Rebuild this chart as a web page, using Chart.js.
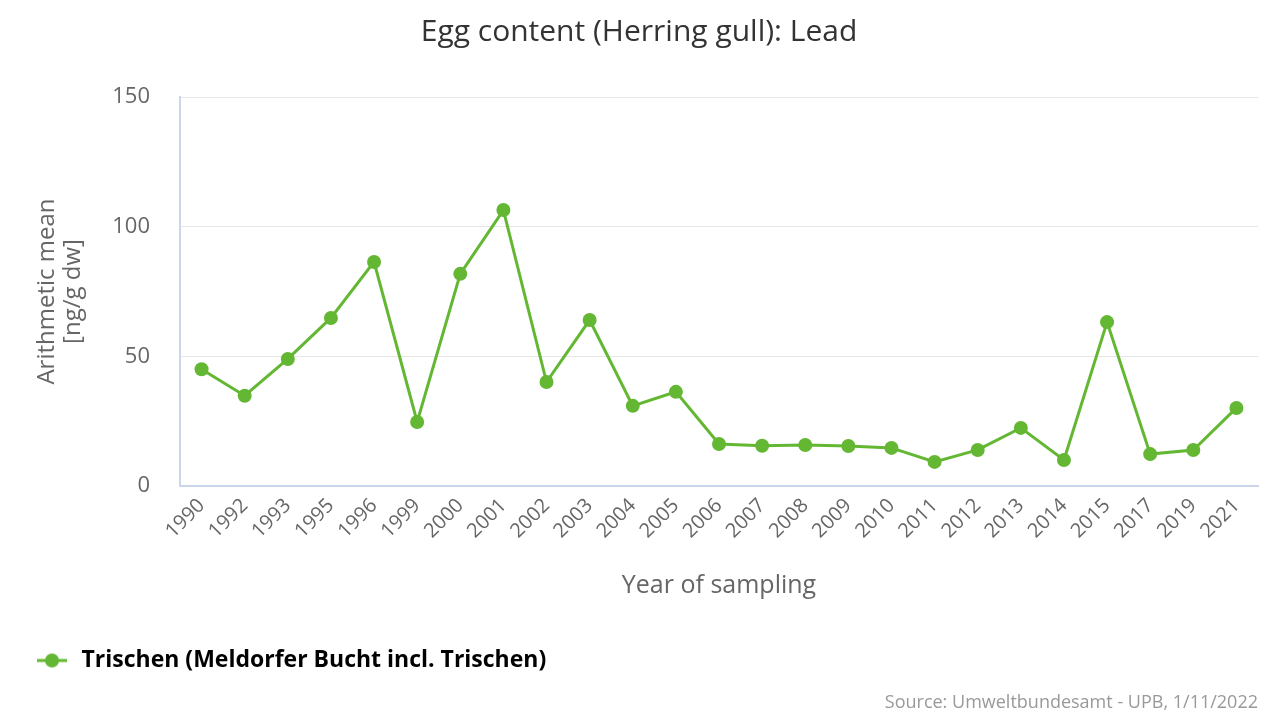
<!DOCTYPE html>
<html>
<head>
<meta charset="utf-8">
<script src="https://cdn.jsdelivr.net/npm/chart.js@4.4.1/dist/chart.umd.min.js"></script>
<style>
  html, body { margin: 0; padding: 0; background: #fff; }
  #wrap { width: 1280px; height: 720px; }
</style>
</head>
<body>
<div id="wrap"><canvas id="myChart" width="1280" height="720"></canvas></div>
<script>
var years = ["1990", "1992", "1993", "1995", "1996", "1999", "2000", "2001", "2002", "2003",
  "2004", "2005", "2006", "2007", "2008", "2009", "2010", "2011", "2012", "2013",
  "2014", "2015", "2017", "2019", "2021"];
var leadValues = [45, 34.8, 49, 64.8, 86.4, 24.7, 81.8, 106.4, 40.1, 64,
  30.9, 36.3, 16.2, 15.5, 15.8, 15.4, 14.7, 9.3, 13.9, 22.4,
  10, 63.2, 12.3, 13.9, 30.1];
var yTicks = [0, 50, 100, 150];

var seriesName = "Trischen (Meldorfer Bucht incl. Trischen)";
var sourceText = "Source: Umweltbundesamt - UPB, 1/11/2022";
var green = "#63b733";
var font = '"Open Sans", "Noto Sans", sans-serif';

// legend marker: line with a dot (blank space on the left to shift it right)
var marker = document.createElement("canvas");
marker.width = 40;
marker.height = 16;
var m = marker.getContext("2d");
m.strokeStyle = green;
m.lineWidth = 3;
m.beginPath();
m.moveTo(7, 8);
m.lineTo(37, 8);
m.stroke();
m.fillStyle = green;
m.beginPath();
m.arc(22, 8, 7, 0, Math.PI * 2);
m.fill();

var sourcePlugin = {
  id: "source",
  afterDraw: function (chart) {
    var c = chart.ctx;
    c.save();
    c.font = "18px " + font;
    c.fillStyle = "#999999";
    c.textAlign = "right";
    c.textBaseline = "middle";
    c.fillText(sourceText, 1258, 703);
    c.restore();
  }
};

var ctx = document.getElementById("myChart");
var myChart = new Chart(ctx, {
  type: "line",
  data: {
    labels: years,
    datasets: [{
      label: seriesName,
      data: leadValues,
      borderColor: green,
      backgroundColor: green,
      borderWidth: 3,
      pointRadius: 7,
      pointHoverRadius: 7,
      pointBorderWidth: 0,
      tension: 0
    }]
  },
  options: {
    responsive: false,
    animation: false,
    layout: { padding: { left: 20, right: 22, top: 0, bottom: 38 } },
    plugins: {
      title: {
        display: true,
        text: "Egg content (Herring gull): Lead",
        color: "#333333",
        font: { family: font, size: 30, weight: "normal" },
        padding: { top: 14, bottom: 47 }
      },
      legend: {
        position: "bottom",
        align: "start",
        labels: {
          usePointStyle: true,
          pointStyleWidth: 40,
          color: "#333333",
          font: { family: font, size: 23, weight: "bold" },
          padding: 10,
          generateLabels: function (chart) {
            return [{
              text: seriesName,
              pointStyle: marker,
              fillStyle: green,
              strokeStyle: green,
              lineWidth: 0,
              datasetIndex: 0,
              hidden: false
            }];
          }
        }
      },
      tooltip: { enabled: false }
    },
    scales: {
      x: {
        offset: true,
        grid: { display: false, drawTicks: false },
        border: { color: "#ccd6eb", width: 2 },
        ticks: {
          color: "#666666",
          font: { family: font, size: 20 },
          minRotation: 45,
          maxRotation: 45,
          autoSkip: false,
          padding: 8
        },
        title: {
          display: true,
          text: "Year of sampling",
          color: "#666666",
          font: { family: font, size: 25 },
          padding: { top: 0, bottom: 38 }
        },
        afterFit: function (scale) { scale.height = 153; }
      },
      y: {
        min: 0,
        max: 150,
        afterBuildTicks: function (scale) {
          scale.ticks = yTicks.map(function (v) { return { value: v }; });
        },
        grid: { color: "#e6e6e6", drawTicks: false },
        border: { color: "#ccd6eb", width: 2 },
        ticks: {
          color: "#666666",
          font: { family: font, size: 22 },
          padding: 30
        },
        title: {
          display: true,
          text: ["Arithmetic mean", "[ng/g dw]"],
          color: "#666666",
          font: { family: font, size: 24, lineHeight: 1.1 },
          padding: { top: 14, bottom: 0 }
        },
        afterFit: function (scale) { scale.width = 160; }
      }
    }
  },
  plugins: [sourcePlugin]
});
</script>
</body>
</html>
